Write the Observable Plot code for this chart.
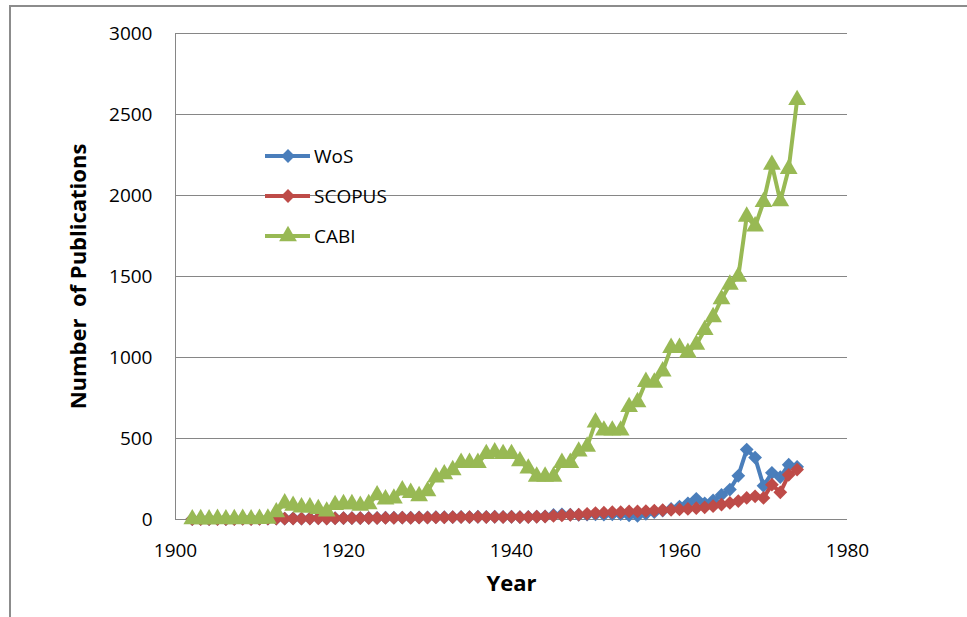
<!DOCTYPE html>
<html><head><meta charset="utf-8">
<script src="https://cdn.jsdelivr.net/npm/d3@7"></script>
<script src="https://cdn.jsdelivr.net/npm/@observablehq/plot@0.6"></script>
<style>
body{margin:0;background:#fff;overflow:hidden}
#wrap{position:relative;width:967px;height:617px;overflow:hidden;background:#fff}
#wrap svg{display:block}
#frame{position:absolute;left:9px;top:5px;width:1200px;height:900px;border:2px solid #8c8c8c;box-sizing:border-box;pointer-events:none}
#legend{position:absolute;left:260px;top:140px}
</style></head>
<body><div id="wrap"></div>
<script>
const years = [1902,1903,1904,1905,1906,1907,1908,1909,1910,1911,
1912,1913,1914,1915,1916,1917,1918,1919,1920,1921,
1922,1923,1924,1925,1926,1927,1928,1929,1930,1931,
1932,1933,1934,1935,1936,1937,1938,1939,1940,1941,
1942,1943,1944,1945,1946,1947,1948,1949,1950,1951,
1952,1953,1954,1955,1956,1957,1958,1959,1960,1961,
1962,1963,1964,1965,1966,1967,1968,1969,1970,1971,
1972,1973,1974];
const wos = [3,4,3,4,3,4,5,4,5,6,
6,6,7,6,7,8,7,8,9,9,
9,10,10,11,11,12,11,13,13,14,
14,15,16,15,17,16,17,16,17,15,
16,18,20,28,32,30,28,30,32,30,
32,33,25,22,35,45,55,65,80,100,
128,100,118,152,185,270,432,382,208,288,
262,338,325];
const scopus = [2,3,2,3,2,3,4,3,4,5,
5,5,6,5,6,7,6,7,8,8,
8,9,9,10,10,11,10,12,12,13,
13,14,15,14,16,15,16,15,16,14,
15,17,18,22,25,28,30,35,40,42,
45,46,50,50,52,55,58,60,62,65,
70,75,82,92,102,114,133,143,133,215,
168,276,308];
const cabi = [2,3,1,4,2,3,5,2,4,6,
45,100,85,75,75,65,50,90,95,95,
85,95,150,125,130,180,165,145,175,260,
280,305,350,350,350,405,415,405,405,360,
315,265,265,265,350,350,420,450,600,550,
550,550,695,725,850,845,915,1060,1060,1030,
1080,1170,1250,1360,1450,1500,1870,1810,1960,2190,
1965,2165,2590];
const seriesNames = ["WoS","SCOPUS","CABI"];
const seriesColors = ["#4a7ebb","#be4b48","#98b954"];
const seriesSymbols = ["diamond2","diamond2","triangle"];
const xTicks = [1900,1920,1940,1960,1980];
const yTicks = [0,500,1000,1500,2000,2500,3000];
const xTitle = "Year";
const yTitle = "Number\u00a0 of Publications";

const valuesBySeries = [wos, scopus, cabi];
const table = [];
seriesNames.forEach((s, k) => years.forEach((yr, i) => table.push({year: yr, series: s, value: valuesBySeries[k][i]})));

const markR = [6.2, 6.2, 6.6];
const seriesMarks = [];
seriesNames.forEach((s, k) => {
  const d = table.filter(r => r.series === s);
  seriesMarks.push(Plot.line(d, {x: "year", y: "value", stroke: "series", strokeWidth: 4, strokeLinejoin: "round"}));
  seriesMarks.push(Plot.dot(d, {x: "year", y: "value", fill: "series", stroke: "none", symbol: seriesSymbols[k], r: markR[k]}));
});

const chart = Plot.plot({
  width: 967, height: 617,
  marginLeft: 175, marginRight: 120, marginTop: 33, marginBottom: 98,
  style: {fontFamily: "'Open Sans', sans-serif", fontSize: "19px", color: "#000", background: "transparent"},
  x: {domain: [1900, 1980]},
  y: {domain: [0, 3000]},
  color: {domain: seriesNames, range: seriesColors},
  marks: [
    Plot.gridY(yTicks, {stroke: "#868686", strokeOpacity: 1, strokeWidth: 1}),
    Plot.ruleX([1900], {stroke: "#868686", strokeWidth: 1}),
    Plot.axisY(yTicks, {tickSize: 0, tickPadding: 23, label: null, tickFormat: d => `${d}`, fontSize: 19}),
    Plot.axisX(xTicks, {tickSize: 0, tickPadding: 24, label: null, tickFormat: d => `${d}`, fontSize: 19}),
    ...seriesMarks,
    Plot.text([xTitle], {frameAnchor: "bottom", dy: 64, lineAnchor: "middle", textAnchor: "middle", fontWeight: "bold", fontSize: 22, fill: "#000"}),
    Plot.text([yTitle], {frameAnchor: "left", dx: -97, rotate: -90, textAnchor: "middle", lineAnchor: "middle", fontWeight: "bold", fontSize: 22, fill: "#000"})
  ]
});

const wrap = document.getElementById("wrap");
wrap.appendChild(chart);
const frame = document.createElement("div");
frame.id = "frame";
wrap.appendChild(frame);

// legend
const leg = d3.select(wrap).append("svg").attr("id", "legend").attr("width", 160).attr("height", 115);
seriesNames.forEach((s, k) => {
  const g = leg.append("g").attr("transform", `translate(0,${16 + k * 40})`);
  g.append("line").attr("x1", 5).attr("x2", 50).attr("y1", 0).attr("y2", 0)
    .attr("stroke", seriesColors[k]).attr("stroke-width", 4);
  const sym = k === 2 ? d3.symbolTriangle : d3.symbolDiamond2;
  g.append("path").attr("transform", "translate(28,0)")
    .attr("d", d3.symbol(sym, Math.PI * markR[k] * markR[k])()).attr("fill", seriesColors[k]);
  g.append("text").attr("x", 54).attr("y", 0).attr("dy", "0.35em")
    .attr("font-family", "'Open Sans', sans-serif").attr("font-size", 19).attr("fill", "#000")
    .text(s);
});
</script>
</body></html>
